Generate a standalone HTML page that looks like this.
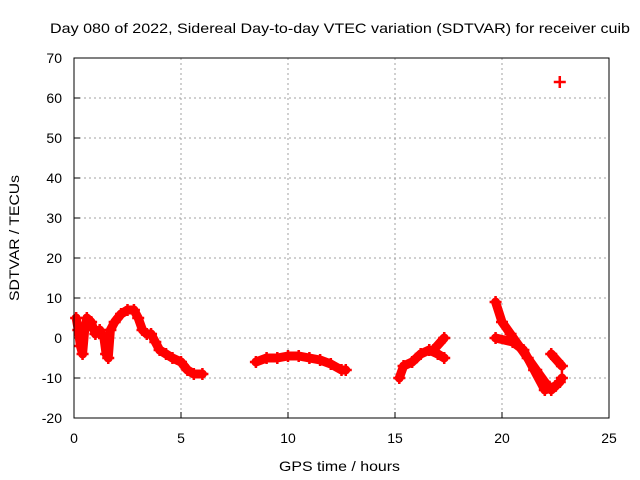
<!DOCTYPE html>
<html><head><meta charset="utf-8"><style>
body{margin:0;background:#fff;}
svg{display:block;font-family:"Liberation Sans",sans-serif;}
</style></head><body>
<svg id="c" width="640" height="480">
<text x="50" y="33" font-size="14" textLength="580" lengthAdjust="spacingAndGlyphs">Day 080 of 2022, Sidereal Day-to-day VTEC variation (SDTVAR) for receiver cuib</text>
<g id="grid"></g><g id="data"></g>
<rect x="74" y="58" width="535" height="360" fill="none" stroke="#000" stroke-width="1"/>
<text x="279" y="471" font-size="14" textLength="121" lengthAdjust="spacingAndGlyphs">GPS time / hours</text>
<text x="0" y="0" font-size="14" textLength="126" lengthAdjust="spacingAndGlyphs" text-anchor="middle" transform="translate(19,238) rotate(-90)">SDTVAR / TECUs</text>
</svg>
<script>
const xTicks=[0,5,10,15,20,25];
const yTicks=[-20,-10,0,10,20,30,40,50,60,70];
const seg1T=[0.1,0.2,0.3,0.4,0.5,0.6,0.8,1.0,1.2,1.4,1.5,1.6,1.7,1.9,2.2,2.5,2.8,3.0,3.2,3.4,3.6,3.8,4.0,4.3,4.6,5.0,5.3,5.6,6.0];
const seg1V=[5,2,-2,-4,2,5,4,1,2,0,-4,-5,2,4,6,7,7,5,2,1,1,-1,-3,-4,-5,-6,-8,-9,-9];
const seg2T=[8.5,9,9.5,10,10.5,11,11.5,12,12.5,12.7];
const seg2V=[-6,-5,-5,-4.5,-4.5,-5,-5.5,-6.5,-8,-8];
const seg3T=[15.2,15.4,15.8,16.2,16.6,17,17.3];
const seg3V=[-10,-7,-6,-4,-3,-4,-5];
const seg3bT=[16.8,17.3];
const seg3bV=[-3,0];
const seg4T=[19.7,20,20.4,20.8,21.2,21.6,22,22.3,22.7,22.8];
const seg4V=[9,4,1,-2,-5,-8,-11,-13,-11,-10];
const seg4bT=[19.7,20.5,21,21.5,22,22.5];
const seg4bV=[0,-1,-3,-8,-13,-12];
const seg5T=[22.3,22.8];
const seg5V=[-4,-7];
const ptT=[22.7];
const ptV=[64];
const NS="http://www.w3.org/2000/svg";
const X=t=>74+t*535/25, Y=v=>338-v*4;
const g=document.getElementById('grid'), d=document.getElementById('data');
function mk(tag,at,par){const e=document.createElementNS(NS,tag);for(const k in at)e.setAttribute(k,at[k]);par.appendChild(e);return e;}
xTicks.forEach(t=>{
 if(t>0&&t<25){const l=mk('line',{x1:X(t),x2:X(t),y1:58,y2:418,stroke:'#a0a0a0','stroke-dasharray':'2,3'},g);
 
 }
 const tk=mk('line',{x1:X(t),x2:X(t),y1:418,y2:412,stroke:'#000'},g);
 
 
 const tx=mk('text',{x:X(t),y:443,'font-size':14,'text-anchor':'middle'},g);tx.textContent=t;
 
 
});
yTicks.forEach(v=>{
 if(v>-20&&v<70){const l=mk('line',{x1:74,x2:609,y1:Y(v),y2:Y(v),stroke:'#a0a0a0','stroke-dasharray':'2,3'},g);
 
 }
 const tk=mk('line',{x1:74,x2:80,y1:Y(v),y2:Y(v),stroke:'#000'},g);
 
 
 const tx=mk('text',{x:62,y:Y(v)+5,'font-size':14,'text-anchor':'end'},g);tx.textContent=v;
 
 
});
function series(T,V,name){
 const p=mk('polyline',{points:T.map((t,i)=>X(t)+','+Y(V[i])).join(' '),fill:'none',stroke:'#f00','stroke-width':9,'stroke-linejoin':'round','stroke-linecap':'round'},d);
 
 
 T.forEach((t,i)=>{const m=mk('path',{d:`M${X(t)-6},${Y(V[i])}h12M${X(t)},${Y(V[i])-6}v12`,stroke:'#f00','stroke-width':2.5},d);
 
 });
}
series(seg1T,seg1V,'series-segment-1');
series(seg2T,seg2V,'series-segment-2');
series(seg3T,seg3V,'series-segment-3');
series(seg3bT,seg3bV,'series-segment-3b');
series(seg4T,seg4V,'series-segment-4');
series(seg4bT,seg4bV,'series-segment-4b');
series(seg5T,seg5V,'series-segment-5');
series(ptT,ptV,'outlier-point');
</script>
</body></html>
